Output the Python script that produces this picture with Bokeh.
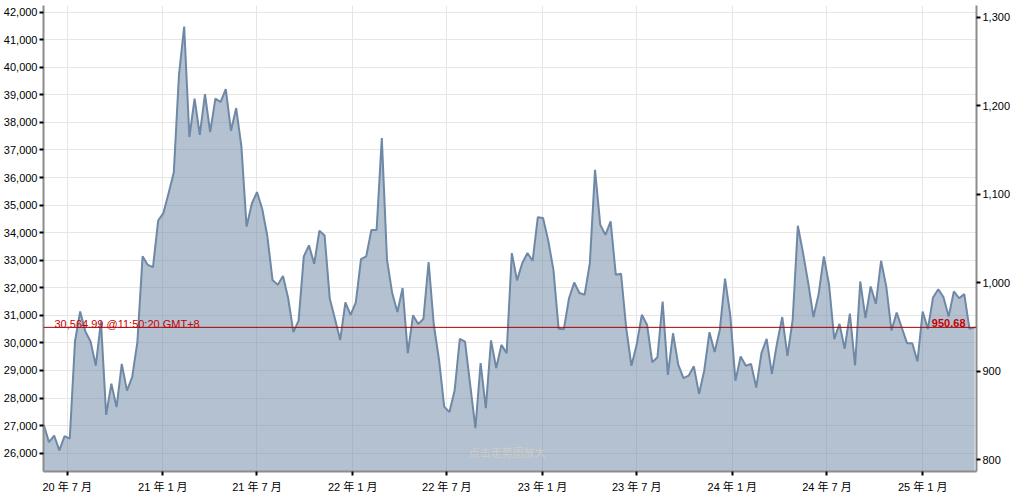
import pandas as pd
from bokeh.plotting import figure
from bokeh.models import (Range1d, LinearAxis, FixedTicker, NumeralTickFormatter,
                          Span, Label, ColumnDataSource)
from bokeh.embed import file_html
from bokeh.resources import INLINE

# ---------------- data ----------------
start_date = "2020-05-17"
step = "10D"
values = [
    27030, 26400, 26640, 26100, 26620, 26530, 30050, 31140, 30420, 30050,
    29180, 30780, 27390, 28520, 27670, 29240, 28270, 28760, 30030, 33140,
    32830, 32750, 34440, 34710, 35430, 36180, 39730, 41480, 37470, 38860,
    37550, 39030, 37650, 38860, 38740, 39210, 37700, 38520, 37130, 34220,
    35050, 35470, 34870, 33860, 32270, 32110, 32430, 31620, 30390, 30810,
    33140, 33540, 32870, 34070, 33900, 31600, 30870, 30110, 31470, 31020,
    31470, 33040, 33140, 34100, 34100, 37430, 33020, 31810, 31120, 31990,
    29630, 31000, 30690, 30870, 32930, 30660, 29390, 27690, 27490, 28270,
    30150, 30050, 28480, 26910, 29270, 27630, 30090, 29090, 29930, 29630,
    33260, 32270, 32890, 33260, 32980, 34560, 34530, 33720, 32650, 30510,
    30500, 31620, 32190, 31810, 31750, 32890, 36280, 34290, 33920, 34410,
    32470, 32510, 30540, 29170, 29930, 31020, 30660, 29300, 29480, 31500,
    28840, 30350, 29210, 28720, 28810, 29150, 28150, 29000, 30390, 29670,
    30480, 32330, 31020, 28630, 29510, 29170, 29240, 28380, 29630, 30150,
    28880, 29990, 30940, 29530, 30840, 34250, 33260, 32170, 30940, 31780,
    33140, 32110, 30140, 30690, 29790, 31060, 29180, 32230, 30900, 32050,
    31420, 32980, 32050, 30450, 31100, 30540, 29990, 29990, 29330, 31140,
    30510, 31650, 31950, 31660, 30960, 31870, 31620, 31770, 30510, 30565,
]
x_tick_dates = ["2020-07-01", "2021-01-01", "2021-07-01", "2022-01-01", "2022-07-01",
                "2023-01-01", "2023-07-01", "2024-01-01", "2024-07-01", "2025-01-01"]
x_tick_labels = ["20 年 7 月", "21 年 1 月", "21 年 7 月", "22 年 1 月", "22 年 7 月",
                 "23 年 1 月", "23 年 7 月", "24 年 1 月", "24 年 7 月", "25 年 1 月"]
left_ticks = [26000, 27000, 28000, 29000, 30000, 31000, 32000, 33000, 34000,
              35000, 36000, 37000, 38000, 39000, 40000, 41000, 42000]
right_ticks = [800, 900, 1000, 1100, 1200, 1300]
current_value = 30564.99
current_time = "11:50:20 GMT+8"
right_value = 950.68
watermark = "点击走势图放大"

# ---------------- styling ----------------
FONT = "Liberation Sans, Noto Sans CJK SC, sans-serif"
LINE_COLOR = "#6e88a6"

dates = pd.date_range(start_date, periods=len(values), freq=step)
x_start = pd.Timestamp("2020-05-16 12:00")
x_end = pd.Timestamp("2025-04-14 12:00")
y_lo, y_hi = 25335, 42242

src = ColumnDataSource(dict(x=dates, y=values, base=[y_lo] * len(values)))

p = figure(width=1013, height=495, x_axis_type="datetime",
           x_range=Range1d(x_start, x_end), y_range=Range1d(y_lo, y_hi),
           output_backend="svg", toolbar_location=None,
           min_border_left=43, min_border_right=35, min_border_top=5, min_border_bottom=23)
p.extra_y_ranges = {"right": Range1d(786.8, 1313.2)}
p.outline_line_color = None
p.background_fill_color = "white"
p.border_fill_color = "white"

xt = FixedTicker(ticks=[pd.Timestamp(d).value // 10**6 for d in x_tick_dates])
p.xaxis.ticker = xt
p.xgrid.ticker = xt
p.xaxis.major_label_overrides = {pd.Timestamp(d).value // 10**6: lab
                                 for d, lab in zip(x_tick_dates, x_tick_labels)}
yt = FixedTicker(ticks=left_ticks)
p.yaxis.ticker = yt
p.ygrid.ticker = yt
p.yaxis.formatter = NumeralTickFormatter(format="0,0")

raxis = LinearAxis(y_range_name="right", ticker=FixedTicker(ticks=right_ticks),
                   formatter=NumeralTickFormatter(format="0,0"))
p.add_layout(raxis, "right")

for ax in [p.xaxis[0], p.yaxis[0], raxis]:
    ax.axis_line_color = "#8c8c8c"
    ax.axis_line_width = 2
    ax.major_tick_line_color = "black"
    ax.major_tick_line_width = 2
    ax.major_tick_out = 4
    ax.major_tick_in = 0
    ax.minor_tick_line_color = None
    ax.major_label_text_font = FONT
    ax.major_label_text_font_size = "11px"
    ax.major_label_text_color = "#000000"
p.yaxis[0].major_label_standoff = 2
raxis.major_label_standoff = 2
p.xaxis[0].major_label_standoff = 5

p.xgrid.grid_line_color = "#e6e6e6"
p.ygrid.grid_line_color = "#e6e6e6"

p.varea(x="x", y1="base", y2="y", source=src, fill_color=LINE_COLOR, fill_alpha=0.52)
p.line(x="x", y="y", source=src, line_color=LINE_COLOR, line_width=2)

p.add_layout(Span(location=current_value, dimension="width",
                  line_color="#a80000", line_width=1))
p.add_layout(Label(x=x_start, y=current_value, x_offset=11, y_offset=3,
                   text=f"{current_value:,.2f} @{current_time}",
                   text_font=FONT, text_font_size="11px", text_color="#c80000",
                   text_baseline="alphabetic", text_align="left"))
p.add_layout(Label(x=x_end, y=right_value, y_range_name="right", x_offset=-11, y_offset=3,
                   text=f"{right_value:.2f}", text_font=FONT, text_font_size="11px",
                   text_font_style="bold", text_color="#c80000",
                   text_baseline="alphabetic", text_align="right"))
p.add_layout(Label(x=pd.Timestamp("2022-10-25"), y=26000, text=watermark,
                   text_font=FONT, text_font_size="11px", text_color="#d6d0c4",
                   text_alpha=0.8, text_align="center", text_baseline="middle"))

open("out.html", "w").write(file_html(p, INLINE))
